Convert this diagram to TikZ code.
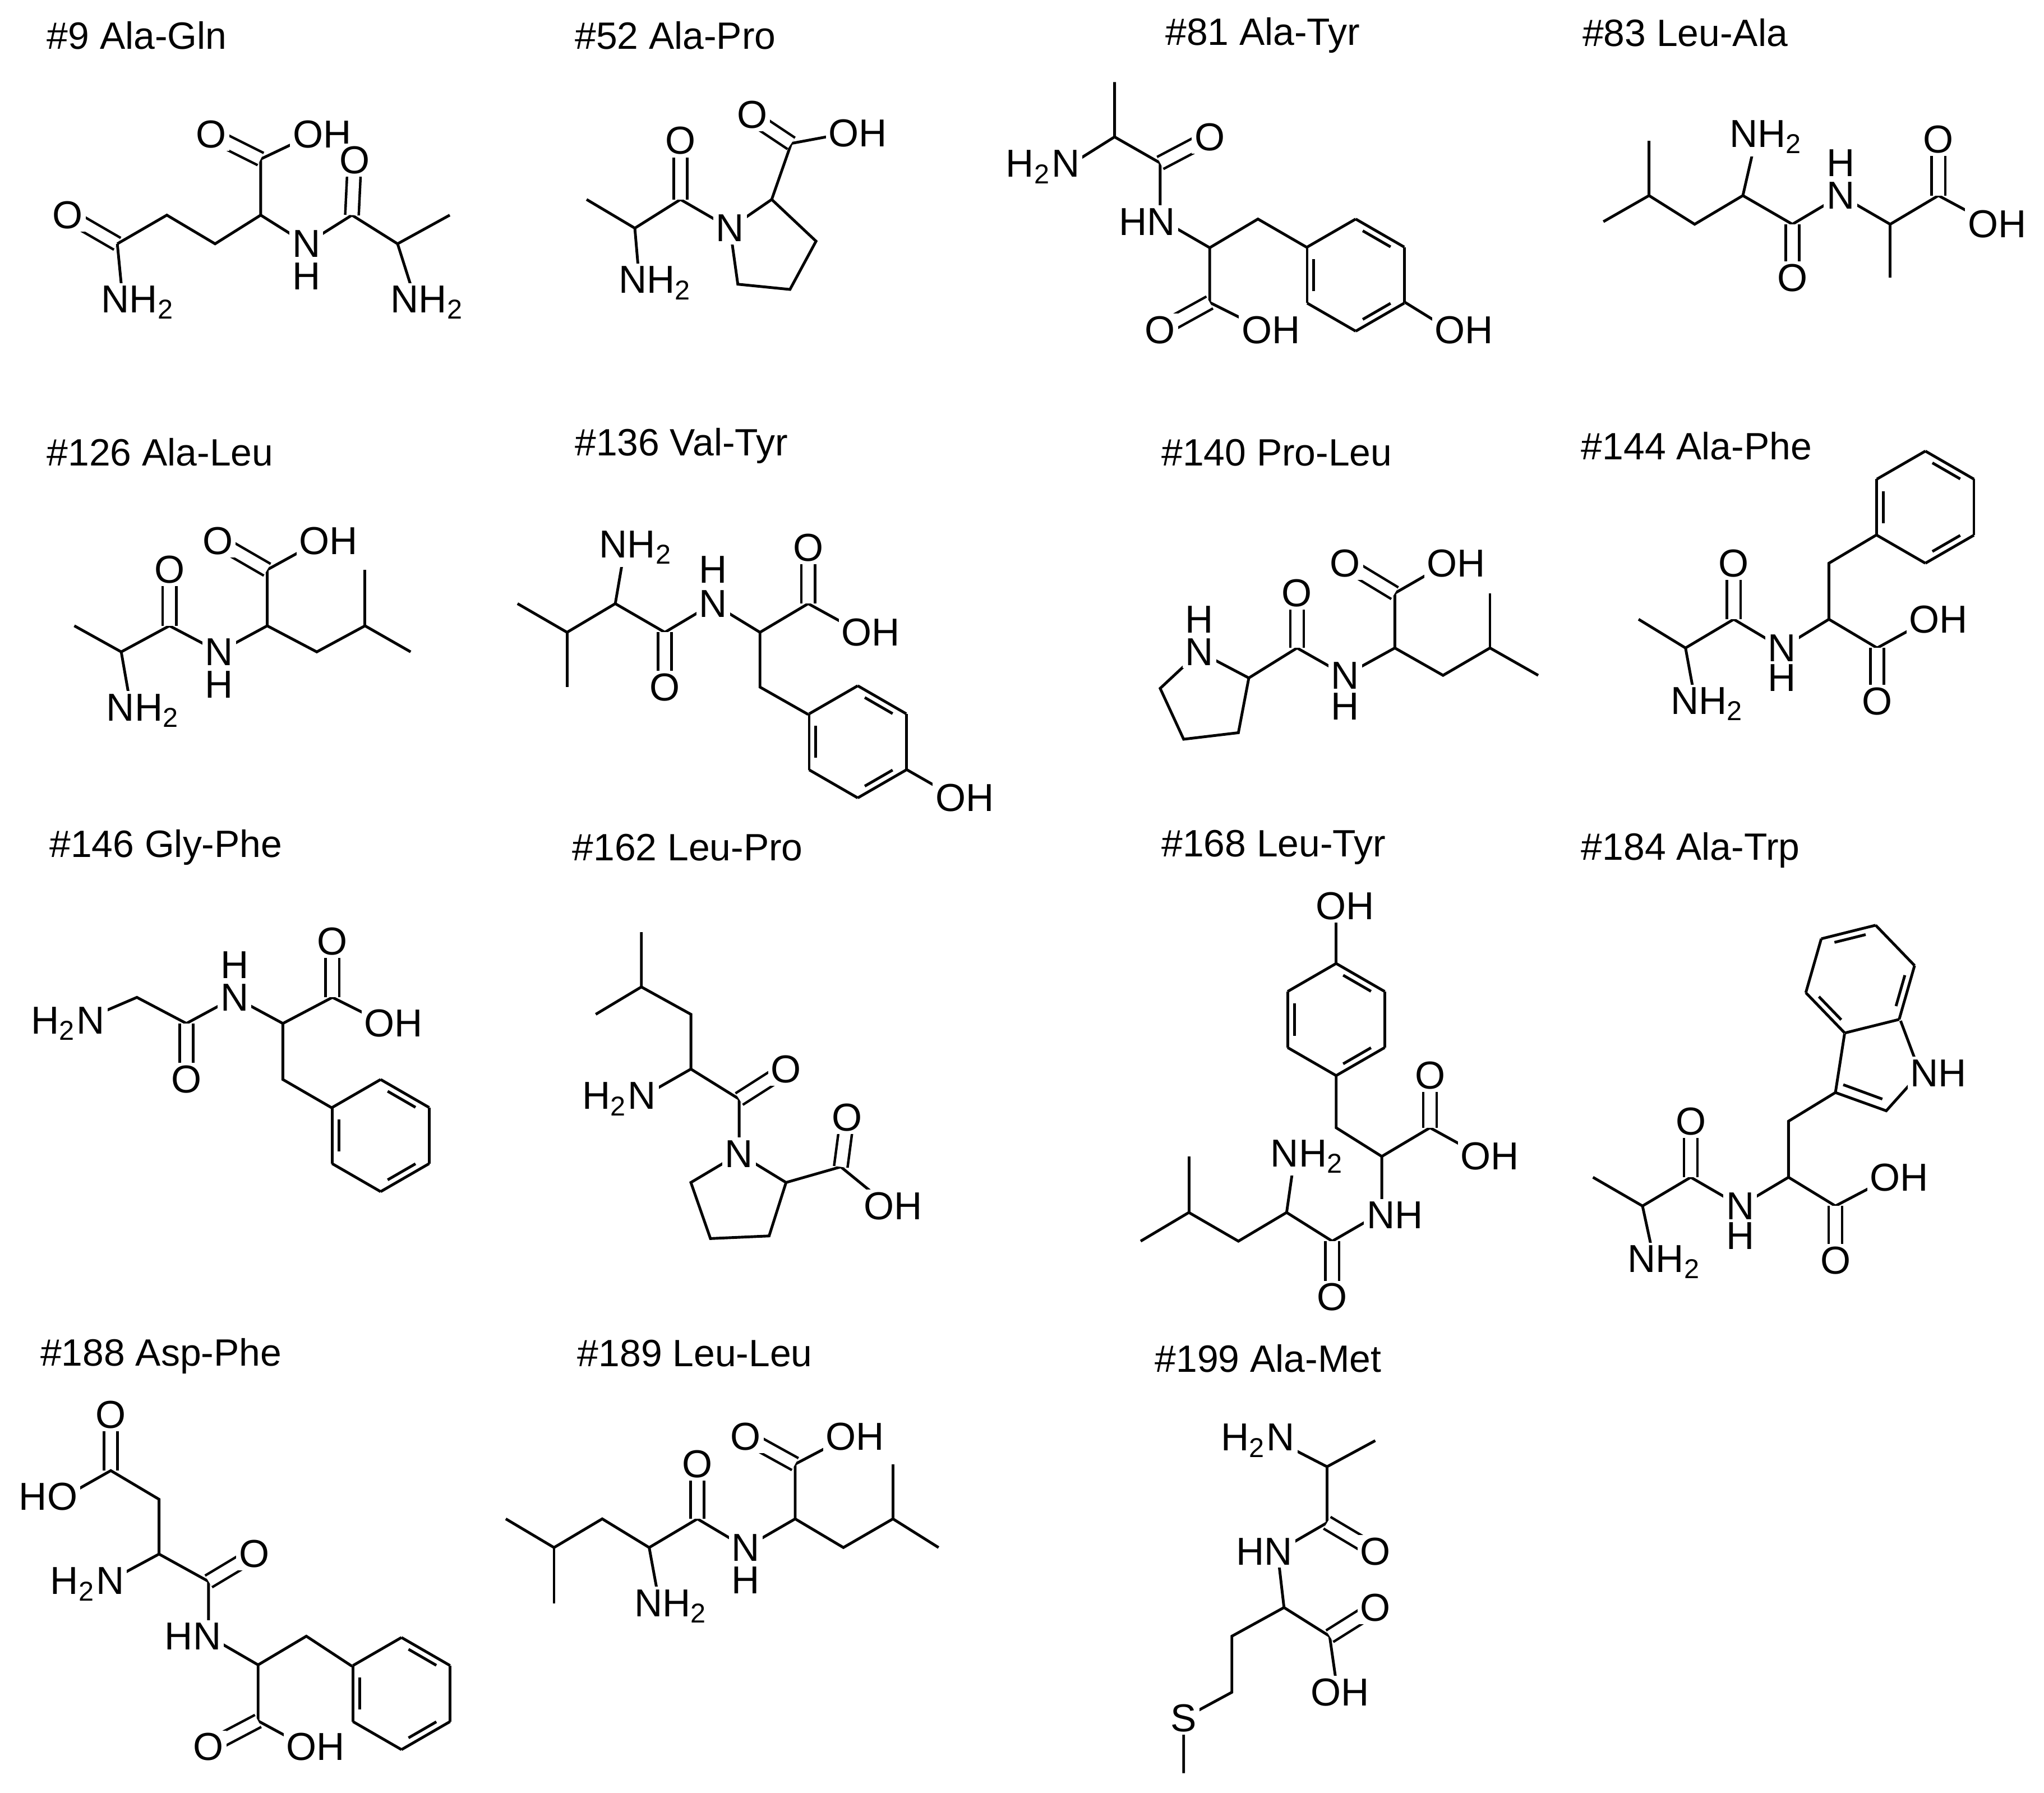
\documentclass[tikz,border=0pt]{standalone}
\usepackage{fontspec}
\setmainfont{Liberation Sans}
\newcommand\two{\textsubscript{2}}
\newcommand\DB[2]{\draw[dbl] (#1)--(#2);}
\newcommand\Ring[3]{%
 \foreach \i in {0,...,5}{\draw ([shift={(#1)}]#3+60*\i:#2)--([shift={(#1)}]#3+60*\i+60:#2);}
 \foreach \i in {0,2,4}{\draw ([shift={(#1)}]#3+60*\i+9:#2*0.8)--([shift={(#1)}]#3+60*\i+51:#2*0.8);}}
\begin{document}
\begin{tikzpicture}[x=0.01cm,y=-0.01cm,line width=0.6pt,
 dbl/.style={double,double distance=2.4pt,line width=0.55pt},
 atm/.style={fill=white,inner sep=0.6pt,font=\fontsize{8.5}{9}\selectfont},
 hh/.style={inner sep=0.4pt,font=\fontsize{8.5}{9}\selectfont},
 ttl/.style={anchor=west,inner sep=0pt,font=\fontsize{8.3}{9}\selectfont}]
\useasboundingbox (0,0) rectangle (1568,1375);
% ---------- #9 Ala-Gln
\node[ttl] (t9) at (35,27) {\#9 Ala-Gln};
\DB{52,165}{90,187}
\draw (90,187)--(94,228);
\draw (90,187)--(128,165)--(165,187)--(200,165)--(235,187)--(270,165)--(305,187)--(345,165);
\draw (200,165)--(200,122)--(240,103); \DB{200,122}{162,103}
\DB{270,165}{272,123}
\draw (305,187)--(318,228);
\node[atm] at (52,165){O}; \node[atm] at (106,232){NH\two}; \node[atm] at (162,103){O};
\node[atm] at (247,103){OH}; \node[atm] at (235,187){N}; \node[hh] at (235,212){H};
\node[atm] at (272,123){O}; \node[atm] at (328,232){NH\two};
% ---------- #52 Ala-Pro
\node[ttl] (t52) at (440,27) {\#52 Ala-Pro};
\draw (450,153)--(487,175)--(522,153)--(560,175);
\draw (487,175)--(490,210);
\DB{522,153}{522,110}
\draw (560,175)--(592,153)--(626,185)--(606,222)--(566,218)--(560,175);
\draw (592,153)--(607,110)--(650,102); \DB{607,110}{577,90}
\node[atm] at (503,217){NH\two}; \node[atm] at (522,108){O}; \node[atm] at (560,175){N};
\node[atm] at (577,88){O}; \node[atm] at (658,102){OH};
% ---------- #81 Ala-Tyr
\node[ttl] (t81) at (893,27) {\#81 Ala-Tyr};
\draw (855,63)--(855,105)--(820,127); \draw (855,105)--(890,125)--(890,168)--(928,190)--(928,232)--(970,253);
\DB{890,125}{928,105}
\DB{928,232}{890,253}
\draw (928,190)--(965,168)--(1003,190);
\Ring{1040,211}{43}{270}
\draw (1078,232)--(1112,253);
\node[atm] at (800,128){H\two N}; \node[atm] at (928,105){O}; \node[atm] at (880,170){HN};
\node[atm] at (890,253){O}; \node[atm] at (975,253){OH}; \node[atm] at (1123,253){OH};
% ---------- #83 Leu-Ala
\node[ttl] (t83) at (1213,25) {\#83 Leu-Ala};
\draw (1265,108)--(1265,150)--(1230,170); \draw (1265,150)--(1300,172)--(1337,150)--(1375,172)--(1412,150)--(1450,172)--(1487,150)--(1528,172);
\draw (1337,150)--(1345,115); \DB{1375,172}{1375,213}
\draw (1450,172)--(1450,213); \DB{1487,150}{1487,107}
\node[atm] at (1355,105){NH\two}; \node[atm] at (1375,213){O}; \node[atm] at (1412,150){N};
\node[hh] at (1412,125){H}; \node[atm] at (1487,107){O}; \node[atm] at (1532,172){OH};
% ---------- #126 Ala-Leu
\node[ttl] (t126) at (35,347) {\#126 Ala-Leu};
\draw (57,480)--(93,500)--(130,480)--(168,500)--(205,480)--(243,500)--(280,480)--(315,500);
\draw (93,500)--(100,540); \DB{130,480}{130,437}
\draw (205,480)--(205,437)--(245,415); \DB{205,437}{167,415}
\draw (280,480)--(280,437);
\node[atm] at (110,545){NH\two}; \node[atm] at (130,437){O}; \node[atm] at (168,500){N};
\node[hh] at (168,525){H}; \node[atm] at (167,415){O}; \node[atm] at (252,415){OH};
% ---------- #136 Val-Tyr
\node[ttl] (t136) at (440,342) {\#136 Val-Tyr};
\draw (397,463)--(435,485)--(472,463)--(510,485)--(547,463)--(583,485)--(620,463)--(660,485);
\draw (435,485)--(435,527); \draw (472,463)--(478,428); \DB{510,485}{510,527}
\DB{620,463}{620,420}
\draw (583,485)--(583,527)--(620,548);
\Ring{658,569}{43}{270}
\draw (695,590)--(730,610);
\node[atm] at (488,420){NH\two}; \node[atm] at (510,527){O}; \node[atm] at (547,463){N};
\node[hh] at (547,437){H}; \node[atm] at (620,420){O}; \node[atm] at (668,485){OH};
\node[atm] at (740,612){OH};
% ---------- #140 Pro-Leu
\node[ttl] (t140) at (890,347) {\#140 Pro-Leu};
\draw (920,500)--(958,520)--(950,562)--(908,567)--(890,528)--(920,500);
\draw (958,520)--(995,497)--(1032,518)--(1070,497)--(1107,518)--(1143,497)--(1180,518);
\DB{995,497}{995,455}
\draw (1070,497)--(1070,455)--(1110,432); \DB{1070,455}{1032,432}
\draw (1143,497)--(1143,455);
\node[atm] at (920,500){N}; \node[hh] at (920,475){H}; \node[atm] at (995,455){O};
\node[atm] at (1032,518){N}; \node[hh] at (1032,542){H}; \node[atm] at (1032,432){O};
\node[atm] at (1117,432){OH};
% ---------- #144 Ala-Phe
\node[ttl] (t144) at (1212,342) {\#144 Ala-Phe};
\draw (1257,475)--(1293,497)--(1330,475)--(1367,497)--(1403,475)--(1440,497)--(1480,475);
\draw (1293,497)--(1300,535); \DB{1330,475}{1330,432}
\DB{1440,497}{1440,538}
\draw (1403,475)--(1403,432)--(1440,410);
\Ring{1477,389}{43}{270}
\node[atm] at (1310,540){NH\two}; \node[atm] at (1330,432){O}; \node[atm] at (1367,497){N};
\node[hh] at (1367,520){H}; \node[atm] at (1440,538){O}; \node[atm] at (1487,475){OH};
% ---------- #146 Gly-Phe
\node[ttl] (t146) at (37,650) {\#146 Gly-Phe};
\draw (70,780)--(105,765)--(143,785)--(180,765)--(217,785)--(255,765)--(295,785);
\DB{143,785}{143,828} \DB{255,765}{255,722}
\draw (217,785)--(217,828)--(255,850);
\Ring{292,871}{43}{270}
\node[atm] at (52,785){H\two N}; \node[atm] at (143,828){O}; \node[atm] at (180,765){N};
\node[hh] at (180,740){H}; \node[atm] at (255,722){O}; \node[atm] at (302,785){OH};
% ---------- #162 Leu-Pro
\node[ttl] (t162) at (438,650) {\#162 Leu-Pro};
\draw (492,715)--(492,757)--(457,778); \draw (492,757)--(530,778)--(530,820)--(567,843)--(567,885);
\draw (530,820)--(495,840); \DB{567,843}{603,820}
\draw (567,885)--(603,907)--(590,948)--(545,950)--(530,907)--(567,885);
\draw (603,907)--(645,895)--(678,922); \DB{645,895}{650,857}
\node[atm] at (475,843){H\two N}; \node[atm] at (603,820){O}; \node[atm] at (567,885){N};
\node[atm] at (650,857){O}; \node[atm] at (685,925){OH};
% ---------- #168 Leu-Tyr
\node[ttl] (t168) at (890,650) {\#168 Leu-Tyr};
\draw (1025,702)--(1025,740);
\Ring{1025,782}{43}{270}
\draw (1025,825)--(1025,865)--(1060,887)--(1097,865)--(1137,887);
\DB{1097,865}{1097,825}
\draw (1060,887)--(1060,930)--(1022,952)--(987,930)--(950,952)--(912,930)--(875,952);
\DB{1022,952}{1022,995}
\draw (987,930)--(992,895); \draw (912,930)--(912,887);
\node[atm] at (1032,695){OH}; \node[atm] at (1097,825){O}; \node[atm] at (1143,887){OH};
\node[atm] at (1070,932){NH}; \node[atm] at (1022,995){O}; \node[atm] at (1003,887){NH\two};
% ---------- #184 Ala-Trp
\node[ttl] (t184) at (1212,652) {\#184 Ala-Trp};
\draw (1222,903)--(1260,925)--(1297,903)--(1335,925)--(1372,903)--(1408,925)--(1450,903);
\draw (1260,925)--(1268,962); \DB{1297,903}{1297,860}
\DB{1408,925}{1408,967}
\draw (1372,903)--(1372,860)--(1408,838);
\Ring{1427,751}{43}{106}
\draw (1408,838)--(1415,793);
\draw (1408,838)--(1447,852)--(1473,823)--(1458,783);
\draw (1414,832)--(1444,843);
\node[atm] at (1297,860){O}; \node[atm] at (1335,925){N}; \node[hh] at (1335,948){H};
\node[atm] at (1277,968){NH\two}; \node[atm] at (1408,967){O}; \node[atm] at (1457,903){OH};
\node[atm] at (1487,823){NH};
% ---------- #188 Asp-Phe
\node[ttl] (t188) at (30,1040) {\#188 Asp-Phe};
\DB{85,1128}{85,1085}
\draw (55,1145)--(85,1128)--(122,1150)--(122,1192)--(85,1212);
\draw (122,1192)--(160,1213)--(160,1255)--(198,1277)--(198,1320)--(235,1340);
\DB{160,1213}{195,1192}
\DB{198,1320}{160,1340}
\draw (198,1277)--(235,1255)--(270,1278);
\Ring{308,1299}{43}{270}
\node[atm] at (85,1085){O}; \node[atm] at (37,1148){HO}; \node[atm] at (67,1215){H\two N};
\node[atm] at (195,1192){O}; \node[atm] at (148,1255){HN}; \node[atm] at (160,1340){O};
\node[atm] at (242,1340){OH};
% ---------- #189 Leu-Leu
\node[ttl] (t189) at (442,1038) {\#189 Leu-Leu};
\draw (388,1165)--(425,1187)--(462,1165)--(498,1187)--(535,1165)--(572,1187)--(610,1165)--(647,1187)--(685,1165)--(720,1187);
\draw (425,1187)--(425,1230); \draw (498,1187)--(505,1225);
\DB{535,1165}{535,1123}
\draw (610,1165)--(610,1123)--(650,1102); \DB{610,1123}{572,1102}
\draw (685,1165)--(685,1123);
\node[atm] at (515,1232){NH\two}; \node[atm] at (535,1123){O}; \node[atm] at (572,1187){N};
\node[hh] at (572,1212){H}; \node[atm] at (572,1102){O}; \node[atm] at (656,1102){OH};
% ---------- #199 Ala-Met
\node[ttl] (t199) at (885,1042) {\#199 Ala-Met};
\draw (985,1108)--(1018,1125)--(1055,1105); \draw (1018,1125)--(1018,1168)--(980,1190)--(985,1233)--(1020,1255)--(1025,1290);
\DB{1018,1168}{1055,1190}
\DB{1020,1255}{1055,1233}
\draw (985,1233)--(945,1255)--(945,1298)--(908,1318)--(908,1360);
\node[atm] at (965,1105){H\two N}; \node[atm] at (1055,1190){O}; \node[atm] at (970,1190){HN};
\node[atm] at (1055,1233){O}; \node[atm] at (1028,1298){OH}; \node[atm] at (908,1318){S};
\end{tikzpicture}
\end{document}
